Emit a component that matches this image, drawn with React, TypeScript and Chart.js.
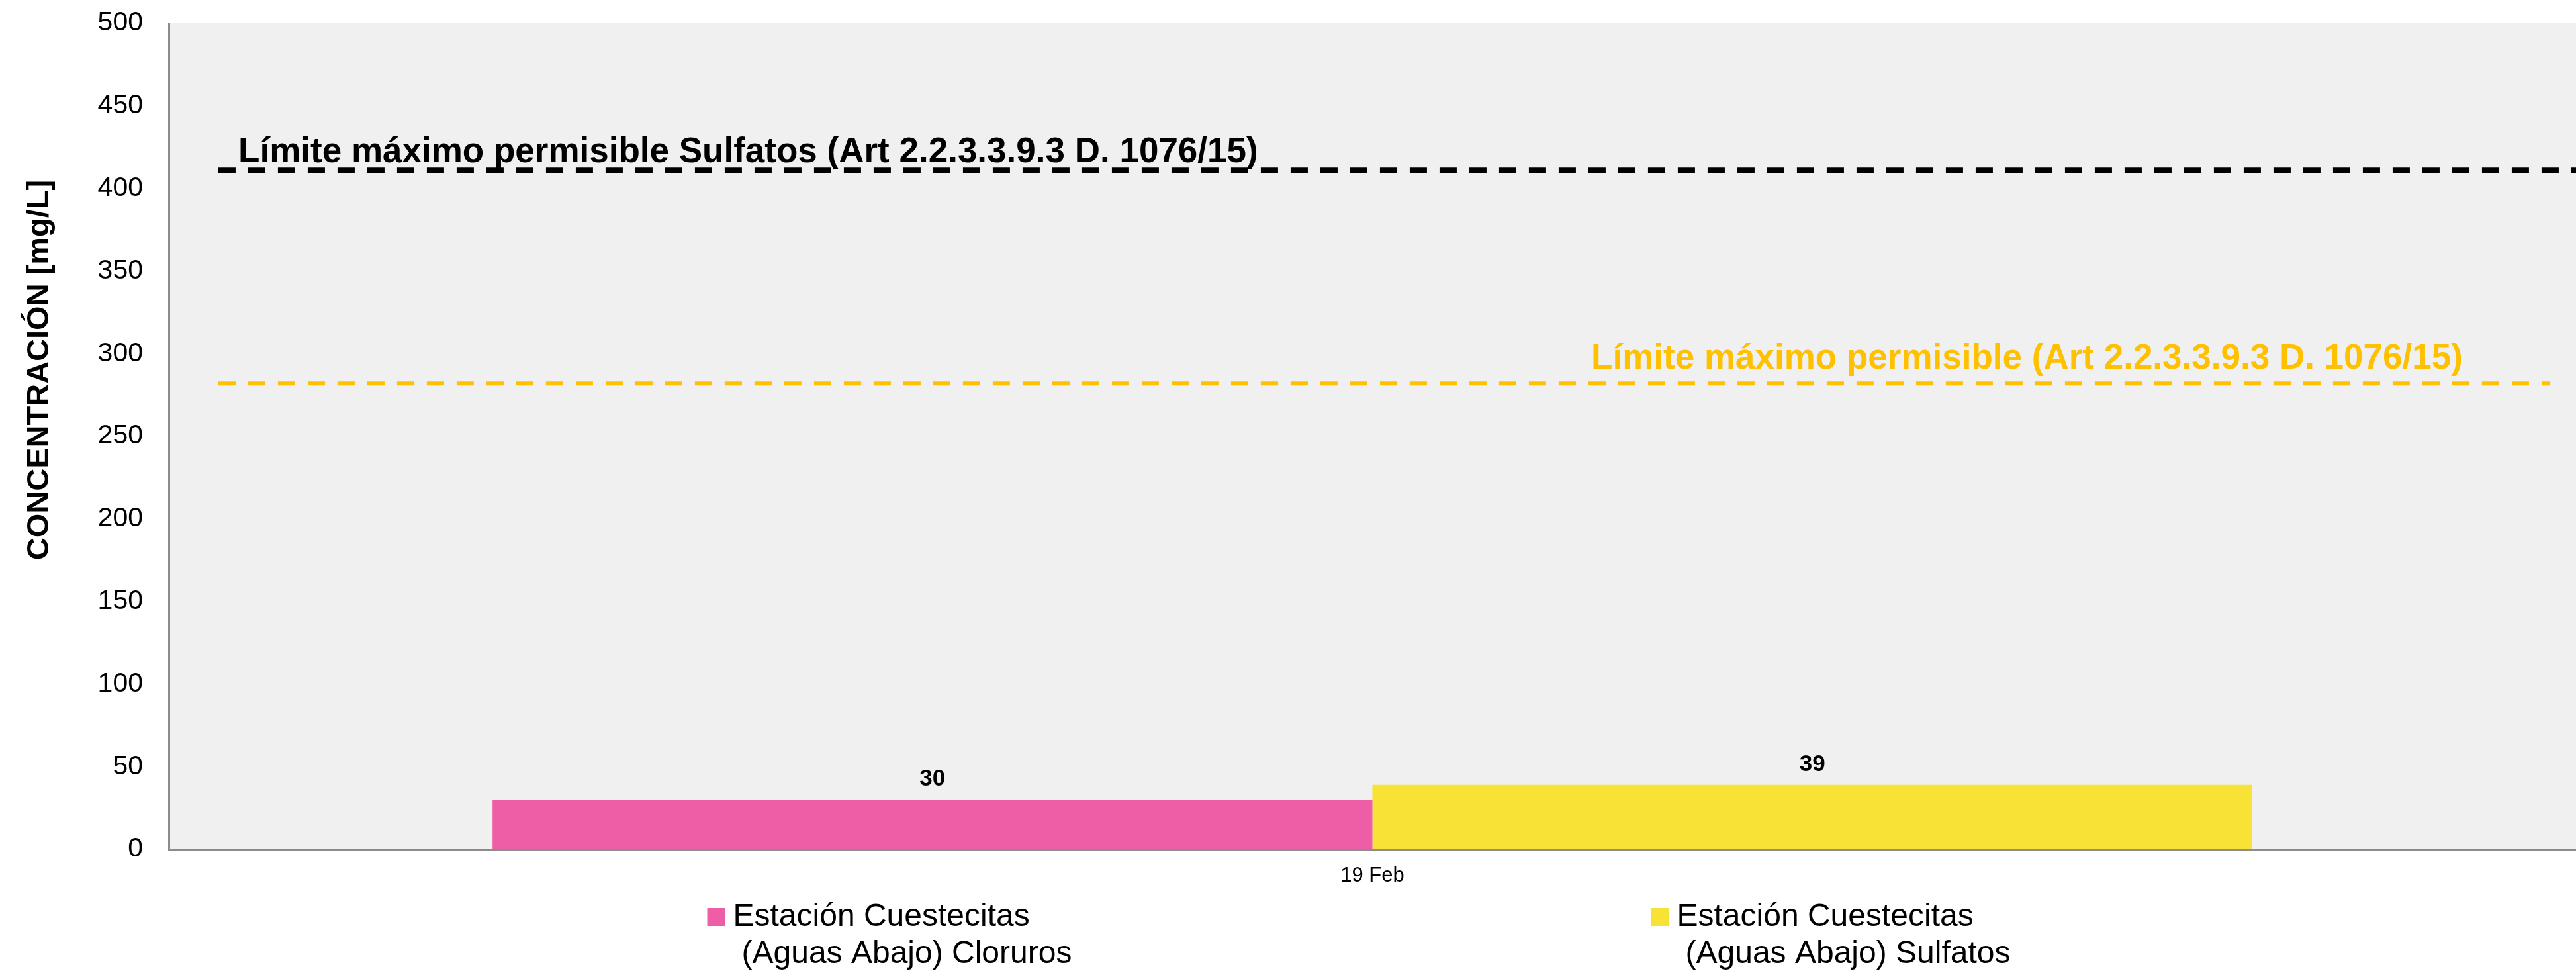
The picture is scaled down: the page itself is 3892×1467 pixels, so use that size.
import React, { useEffect, useRef } from "react";
import { Chart, registerables } from "chart.js";

Chart.register(...registerables);

// ---- data ----
const categories = ["19 Feb"];
const clorurosValues = [30];
const sulfatosValues = [39];
const seriesNames = [
  ["Estación Cuestecitas", "(Aguas Abajo) Cloruros"],
  ["Estación Cuestecitas", "(Aguas Abajo) Sulfatos"],
];
const seriesColors = ["#EE5EA6", "#F8E235"];
const limitValues = [411, 282];
const limitLabels = [
  "Límite máximo permisible Sulfatos (Art 2.2.3.3.9.3 D. 1076/15)",
  "Límite máximo permisible (Art 2.2.3.3.9.3 D. 1076/15)",
];
const limitColors = ["#000000", "#FFC000"];
const yMin = 0;
const yMax = 500;
const yStep = 50;
const yTitle = "CONCENTRACIÓN [mg/L]";

const FONT = '"Liberation Sans", Arial, sans-serif';

const decorPlugin = {
  id: "decor",
  beforeDraw(chart: any) {
    const { ctx, chartArea } = chart;
    ctx.save();
    ctx.fillStyle = "#F0F0F0";
    ctx.fillRect(chartArea.left, chartArea.top, chartArea.right - chartArea.left, chartArea.bottom - chartArea.top);
    ctx.restore();
  },
  afterDatasetsDraw(chart: any) {
    const { ctx, chartArea, scales } = chart;
    const y = scales.y;
    const w = chartArea.right - chartArea.left;
    // limit lines
    const lineStyles = [
      { width: 8, start: 0.0206, end: 1.01, labelX: 0.0289, labelDy: -12 },
      { width: 6, start: 0.0206, end: 0.9893, labelX: 0.5909, labelDy: -22 },
    ];
    limitValues.forEach((v, i) => {
      const py = y.getPixelForValue(v);
      const st = lineStyles[i];
      ctx.save();
      ctx.strokeStyle = limitColors[i];
      ctx.lineWidth = st.width;
      ctx.setLineDash([26, 19]);
      ctx.beginPath();
      ctx.moveTo(chartArea.left + st.start * w, py);
      ctx.lineTo(chartArea.left + st.end * w, py);
      ctx.stroke();
      ctx.setLineDash([]);
      ctx.fillStyle = limitColors[i];
      ctx.font = `bold 53px ${FONT}`;
      ctx.textAlign = "left";
      ctx.textBaseline = "alphabetic";
      ctx.fillText(limitLabels[i], chartArea.left + st.labelX * w, py + st.labelDy);
      ctx.restore();
    });
    // bar value labels
    chart.data.datasets.forEach((ds: any, di: number) => {
      const meta = chart.getDatasetMeta(di);
      meta.data.forEach((bar: any, j: number) => {
        ctx.save();
        ctx.fillStyle = "#000";
        ctx.font = `bold 35px ${FONT}`;
        ctx.textAlign = "center";
        ctx.textBaseline = "alphabetic";
        ctx.fillText(String(ds.data[j]), bar.x, bar.y - 21);
        ctx.restore();
      });
    });
  },
  afterDraw(chart: any) {
    const { ctx, chartArea } = chart;
    // y title
    ctx.save();
    ctx.translate(60, (chartArea.top + chartArea.bottom) / 2 - 100);
    ctx.rotate(-Math.PI / 2);
    ctx.fillStyle = "#000";
    ctx.font = `bold 47px ${FONT}`;
    ctx.textAlign = "center";
    ctx.textBaseline = "middle";
    ctx.fillText(yTitle, 0, 0);
    ctx.restore();
    // legend
    const cx = (chartArea.left + chartArea.right) / 2;
    const startX = cx - 1005;
    const colW = 1426;
    const top = chartArea.bottom + 89;
    chart.data.datasets.forEach((ds: any, i: number) => {
      const x = startX + i * colW;
      ctx.save();
      ctx.fillStyle = ds.backgroundColor;
      ctx.fillRect(x, top, 27, 27);
      ctx.fillStyle = "#000";
      ctx.font = `48px ${FONT}`;
      ctx.textAlign = "left";
      ctx.textBaseline = "alphabetic";
      const lines: string[] = ds.legendLines;
      lines.forEach((ln, k) => {
        ctx.fillText(ln, x + 39 + (k > 0 ? 13 : 0), top + 27 + k * 56);
      });
      ctx.restore();
    });
  },
};

export default function App() {
  const ref = useRef<HTMLCanvasElement | null>(null);
  useEffect(() => {
    document.body.style.margin = "0";
    document.body.style.overflow = "hidden";
    const canvas = ref.current;
    if (!canvas) return;
    const chart = new Chart(canvas, {
      type: "bar",
      data: {
        labels: categories,
        datasets: [
          {
            label: seriesNames[0].join(" "),
            legendLines: seriesNames[0],
            data: clorurosValues,
            backgroundColor: seriesColors[0],
            borderWidth: 0,
          } as any,
          {
            label: seriesNames[1].join(" "),
            legendLines: seriesNames[1],
            data: sulfatosValues,
            backgroundColor: seriesColors[1],
            borderWidth: 0,
          } as any,
        ],
      },
      options: {
        animation: false,
        responsive: false,
        devicePixelRatio: 1,
        layout: { padding: { top: 35, left: 0, right: 0, bottom: 0 } },
        datasets: { bar: { barPercentage: 1, categoryPercentage: 0.731 } },
        plugins: {
          legend: { display: false },
          tooltip: { enabled: false },
          title: { display: false },
        },
        scales: {
          x: {
            grid: { display: false, drawTicks: false },
            border: { display: true, color: "#8C8C8C", width: 3 },
            ticks: { color: "#000", font: { family: FONT, size: 31 }, padding: 22 },
            afterFit(scale: any) {
              scale.height = 184;
              scale.paddingLeft = 0;
              scale.paddingRight = 0;
            },
          },
          y: {
            min: yMin,
            max: yMax,
            grid: { display: false, drawTicks: false },
            border: { display: true, color: "#8C8C8C", width: 3 },
            ticks: { stepSize: yStep, color: "#000", font: { family: FONT, size: 41 }, padding: 39 },
            afterFit(scale: any) {
              scale.width = 255;
              scale.paddingTop = 0;
              scale.paddingBottom = 0;
            },
          },
        },
      },
      plugins: [decorPlugin],
    });
    return () => chart.destroy();
  }, []);
  return (
    <div style={{ position: "fixed", left: 0, top: 0, width: 3892, height: 1467, background: "#fff" }}>
      <canvas ref={ref} width={3892} height={1467} style={{ display: "block" }} />
    </div>
  );
}
